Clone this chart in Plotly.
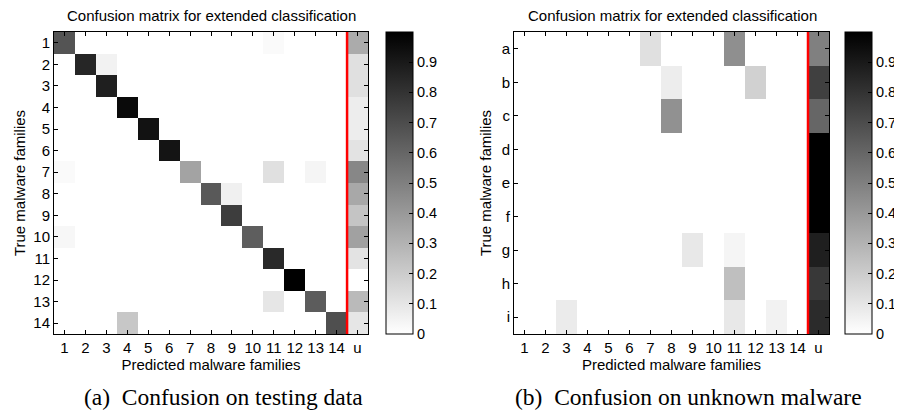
import plotly.graph_objects as go

# ---- data ----
predicted_labels = ["1", "2", "3", "4", "5", "6", "7", "8", "9", "10", "11", "12", "13", "14", "u"]
testing_labels = ["1", "2", "3", "4", "5", "6", "7", "8", "9", "10", "11", "12", "13", "14"]
unknown_labels = ["a", "b", "c", "d", "e", "f", "g", "h", "i"]

#                 1     2     3     4     5     6     7     8     9     10    11    12    13    14    u
testing_row_1  = [0.67, 0,    0,    0,    0,    0,    0,    0,    0,    0,    0.02, 0,    0,    0,    0.33]
testing_row_2  = [0,    0.85, 0.05, 0,    0,    0,    0,    0,    0,    0,    0,    0,    0,    0,    0.12]
testing_row_3  = [0,    0,    0.88, 0,    0,    0,    0,    0,    0,    0,    0,    0,    0,    0,    0.12]
testing_row_4  = [0,    0,    0,    0.96, 0,    0,    0,    0,    0,    0,    0,    0,    0,    0,    0.07]
testing_row_5  = [0,    0,    0,    0,    0.93, 0,    0,    0,    0,    0,    0,    0,    0,    0,    0.07]
testing_row_6  = [0,    0,    0,    0,    0,    0.92, 0,    0,    0,    0,    0,    0,    0,    0,    0.11]
testing_row_7  = [0.02, 0,    0,    0,    0,    0,    0.36, 0,    0,    0,    0.12, 0,    0.04, 0,    0.47]
testing_row_8  = [0,    0,    0,    0,    0,    0,    0,    0.65, 0.06, 0,    0,    0,    0,    0,    0.34]
testing_row_9  = [0,    0,    0,    0,    0,    0,    0,    0,    0.76, 0,    0,    0,    0,    0,    0.23]
testing_row_10 = [0.03, 0,    0,    0,    0,    0,    0,    0,    0,    0.63, 0,    0,    0,    0,    0.37]
testing_row_11 = [0,    0,    0,    0,    0,    0,    0,    0,    0,    0,    0.84, 0,    0,    0,    0.11]
testing_row_12 = [0,    0,    0,    0,    0,    0,    0,    0,    0,    0,    0,    1.0,  0,    0,    0.0]
testing_row_13 = [0,    0,    0,    0,    0,    0,    0,    0,    0,    0,    0.10, 0,    0.64, 0,    0.27]
testing_row_14 = [0,    0,    0,    0.22, 0,    0,    0,    0,    0,    0,    0,    0,    0,    0.69, 0.10]

#                 1     2     3     4     5     6     7     8     9     10    11    12    13    14    u
unknown_row_a  = [0,    0,    0,    0,    0,    0,    0.12, 0,    0,    0,    0.44, 0,    0,    0,    0.50]
unknown_row_b  = [0,    0,    0,    0,    0,    0,    0,    0.07, 0,    0,    0,    0.18, 0,    0,    0.75]
unknown_row_c  = [0,    0,    0,    0,    0,    0,    0,    0.43, 0,    0,    0,    0,    0,    0,    0.60]
unknown_row_d  = [0,    0,    0,    0,    0,    0,    0,    0,    0,    0,    0,    0,    0,    0,    1.0]
unknown_row_e  = [0,    0,    0,    0,    0,    0,    0,    0,    0,    0,    0,    0,    0,    0,    1.0]
unknown_row_f  = [0,    0,    0,    0,    0,    0,    0,    0,    0,    0,    0,    0,    0,    0,    1.0]
unknown_row_g  = [0,    0,    0,    0,    0,    0,    0,    0,    0.09, 0,    0.04, 0,    0,    0,    0.88]
unknown_row_h  = [0,    0,    0,    0,    0,    0,    0,    0,    0,    0,    0.25, 0,    0,    0,    0.78]
unknown_row_i  = [0,    0,    0.08, 0,    0,    0,    0,    0,    0,    0,    0.09, 0,    0.05, 0,    0.83]

colorbar_ticks = [0, 0.1, 0.2, 0.3, 0.4, 0.5, 0.6, 0.7, 0.8, 0.9]
colorbar_labels = ["0", "0.1", "0.2", "0.3", "0.4", "0.5", "0.6", "0.7", "0.8", "0.9"]

testing_z = [testing_row_1, testing_row_2, testing_row_3, testing_row_4, testing_row_5,
             testing_row_6, testing_row_7, testing_row_8, testing_row_9, testing_row_10,
             testing_row_11, testing_row_12, testing_row_13, testing_row_14]
unknown_z = [unknown_row_a, unknown_row_b, unknown_row_c, unknown_row_d, unknown_row_e,
             unknown_row_f, unknown_row_g, unknown_row_h, unknown_row_i]

# ---- layout geometry (window pixels; the page body adds an 8px offset) ----
OFF = 8
W, H = 902 - OFF, 410 - OFF
def px(x):
    return (x - OFF) / W
def py(y):
    return 1 - (y - OFF) / H

FONT = "Liberation Sans, Arial, sans-serif"
SERIF = "Liberation Serif, Times New Roman, serif"
TICK = 15
gray_scale = [[0, "#ffffff"], [1, "#000000"]]

fig = go.Figure()

def colorbar(x_left):
    return dict(
        x=px(x_left), xanchor="left", xref="paper",
        y=py(334), yanchor="bottom", yref="paper",
        len=(334 - 32) / H, lenmode="fraction",
        thickness=27, thicknessmode="pixels",
        outlinewidth=1, outlinecolor="black",
        tickvals=colorbar_ticks, ticktext=colorbar_labels,
        ticks="inside", ticklen=4, tickcolor="black",
        tickfont=dict(family=FONT, size=14.5, color="black"),
        xpad=0, ypad=0,
    )

fig.add_trace(go.Heatmap(
    z=testing_z, x=list(range(1, 16)), y=list(range(1, 15)),
    colorscale=gray_scale, zmin=0, zmax=1,
    colorbar=colorbar(386), xaxis="x", yaxis="y",
))
fig.add_trace(go.Heatmap(
    z=unknown_z, x=list(range(1, 16)), y=list(range(1, 10)),
    colorscale=gray_scale, zmin=0, zmax=1,
    colorbar=colorbar(845), xaxis="x2", yaxis="y2",
))

axis_common = dict(
    showline=True, linecolor="black", linewidth=1, mirror="ticks",
    ticks="inside", ticklen=4, tickcolor="black", showgrid=False, zeroline=False,
    tickfont=dict(family=FONT, size=TICK, color="black"), automargin=False,
)
title_font = dict(family=FONT, size=15, color="black")

fig.update_layout(
    width=W, height=H,
    margin=dict(l=0, r=0, t=0, b=0, autoexpand=False),
    paper_bgcolor="white", plot_bgcolor="white",
    showlegend=False,
    xaxis=dict(domain=[px(54), px(368)], anchor="y",
               tickvals=list(range(1, 16)), ticktext=predicted_labels,
               range=[0.5, 15.5],
               title=dict(text="Predicted malware families", standoff=0, font=title_font),
               **axis_common),
    yaxis=dict(domain=[py(334), py(32)], anchor="x",
               tickvals=list(range(1, 15)), ticktext=testing_labels,
               range=[14.5, 0.5],
               title=dict(text="True malware families", standoff=4, font=title_font),
               **axis_common),
    xaxis2=dict(domain=[px(514), px(829)], anchor="y2",
                tickvals=list(range(1, 16)), ticktext=predicted_labels,
                range=[0.5, 15.5],
                title=dict(text="Predicted malware families", standoff=0, font=title_font),
                **axis_common),
    yaxis2=dict(domain=[py(334), py(32)], anchor="x2",
                tickvals=list(range(1, 10)), ticktext=unknown_labels,
                range=[9.5, 0.5],
                title=dict(text="True malware families", standoff=6, font=title_font),
                **axis_common),
)

# red separators before the "unknown" column
for xr, yr in (("x", "y domain"), ("x2", "y2 domain")):
    fig.add_shape(type="line", xref=xr, yref=yr, x0=14.5, x1=14.5, y0=0, y1=1,
                  line=dict(color="#ff0000", width=2.5), layer="above")

# titles and captions
for cx in (211, 672):
    fig.add_annotation(text="Confusion matrix for extended classification",
                       x=px(cx), y=py(15.5), xref="paper", yref="paper",
                       showarrow=False, xanchor="center", yanchor="middle",
                       font=dict(family=FONT, size=15, color="black"))
for cx, cap in ((223, "(a)\u00a0 Confusion on testing data"), (688, "(b)\u00a0 Confusion on unknown malware")):
    fig.add_annotation(text=cap,
                       x=px(cx), y=py(397), xref="paper", yref="paper",
                       showarrow=False, xanchor="center", yanchor="middle",
                       font=dict(family=SERIF, size=23.5, color="black"))

fig.write_html("out.html")
